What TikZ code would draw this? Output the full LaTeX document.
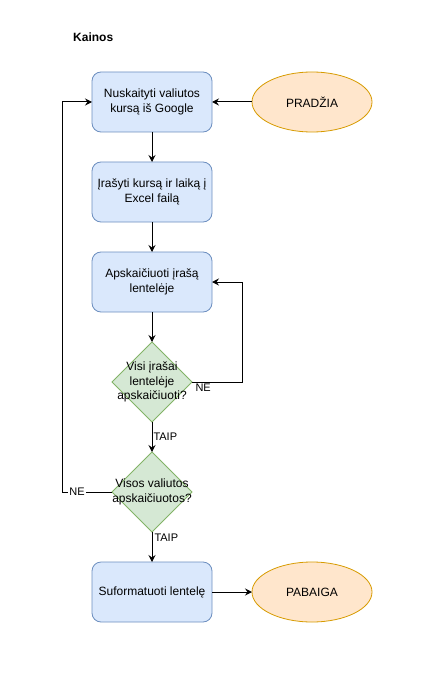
\documentclass[tikz,border=0pt]{standalone}
\usepackage{fontspec}
\setmainfont{Liberation Sans}
\usepackage{xcolor}
\usetikzlibrary{
  arrows.meta,
  positioning,
  shapes}
\definecolor{boxfill}{HTML}{DAE8FC}
\definecolor{boxline}{HTML}{6C8EBF}
\definecolor{termfill}{HTML}{FFE6CC}
\definecolor{termline}{HTML}{D79B00}
\definecolor{decfill}{HTML}{D5E8D4}
\definecolor{decline}{HTML}{82B366}
\tikzset{every picture/.style={font issue=\fontsize{12}{14.4}},
         font issue/.style={execute at begin picture={#1\selectfont}}
        }

\begin{document}
\begin{tikzpicture}[x=1pt, y=1pt, node distance = 30pt,
  >={Stealth[length=7pt, width=7pt, inset=2.5pt]},
  box/.style={draw=boxline, fill=boxfill, rounded corners=9pt, line width=0.8pt,
    minimum width=120pt, minimum height=60pt, align=center, outer sep=0pt},
  term/.style={ellipse, draw=termline, fill=termfill, line width=0.8pt,
    minimum width=120pt, minimum height=60pt, outer sep=0pt},
  dec/.style={diamond, draw=decline, fill=decfill, line width=0.8pt,
    minimum width=80pt, minimum height=80pt, inner sep=0pt, outer sep=0pt},
  lbl/.style={font=\fontsize{11}{13}\selectfont, inner sep=1pt}]
\useasboundingbox (0,0) rectangle (431,-687);
\node[font=\bfseries, anchor=west, inner sep=0pt] (title) at (73,-37) {Kainos};
\node[box] (read) at (152,-102) {Nuskaityti valiutos\\kursą iš Google};
\node[term, right = 40pt of read] (start) {PRADŽIA};
\node[box, below = of read] (write) {Įrašyti kursą ir laiką į\\Excel failą};
\node[box, below = of write] (calc) {Apskaičiuoti įrašą\\lentelėje};
\node[dec, below = of calc, label={[align=center]center:Visi įrašai\\lentelėje\\apskaičiuoti?}] (allrows) {};
\node[dec, below = of allrows, label={[align=center]center:Visos valiutos\\apskaičiuotos?}] (allcur) {};
\node[box, below = of allcur] (format) {Suformatuoti lentelę};
\node[term, right = 40pt of format] (end) {PABAIGA};



\draw[->, line width=1pt] (start) -- (read);
\draw[->, line width=1pt] (read) -- (write);
\draw[->, line width=1pt] (write) -- (calc);
\draw[->, line width=1pt] (calc) -- (allrows);
\draw[->, line width=1pt] (allrows) -- node[lbl, right, pos=0.5]{TAIP} (allcur);
\draw[->, line width=1pt] (allrows.east) -- node[lbl, anchor=north west, pos=0, xshift=2pt]{NE} ++(50,0) |- (calc.east);
\draw[->, line width=1pt] (allcur) -- node[lbl, anchor=north west, pos=0, xshift=1pt]{TAIP} (format);
\draw[->, line width=1pt] (allcur.west) -- node[lbl, fill=white, pos=0.7]{NE} ++(-50,0) |- (read.west);
\draw[->, line width=1pt] (format) -- (end);
\end{tikzpicture}
\end{document}
